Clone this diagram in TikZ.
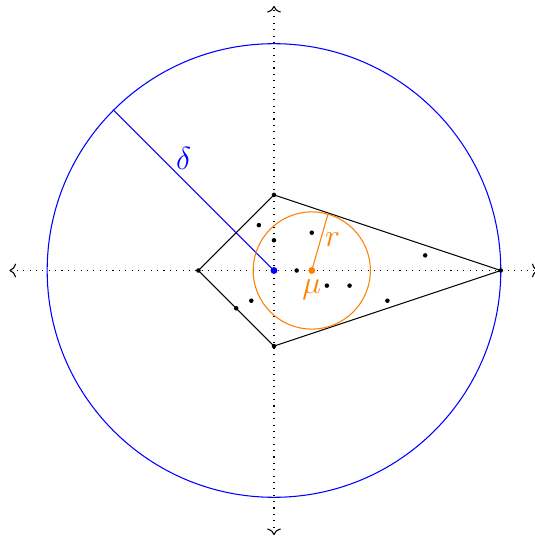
\documentclass[tikz,border=0pt]{standalone}
\usetikzlibrary{arrows.meta,positioning,calc}

\begin{document}
\begin{tikzpicture}[%
    axis/.style={dotted,<->},
    pt/.style={circle,fill,inner sep=0pt,minimum size=1.7pt},
    bigpt/.style={circle,fill,inner sep=0pt,minimum size=2.6pt},
    lbl/.style={font=\large}
]
\useasboundingbox (-3.624,-3.525) rectangle (3.452,3.578);

% ---------------- Axes ----------------
\coordinate (xl) at (-3.5,0);
\coordinate (xr) at (3.5,0);
\coordinate (yb) at (0,-3.5);
\coordinate (yt) at (0,3.5);
\draw[axis] (xl) -- (xr);
\draw[axis] (yb) -- (yt);

% ---------------- Enclosing circle ----------------
\coordinate (o) at (0,0);
\coordinate (d) at (135:3);
\draw[blue] (o) circle (3);
\draw[blue] (o) -- node[pos=0.62,above right=0.5pt,inner sep=0pt,lbl] (dlbl) {$\delta$} (d);

% ---------------- Points and hull ----------------
\foreach \x/\y [count=\i] in {0/1,3/0,0/-1,-1/0,-0.2/0.6,0/0.4,0.5/0.5,0.3/0,
    0.7/-0.2,1/-0.2,-0.3/-0.4,-0.5/-0.5,1.5/-0.4,2/0.2} {
    \node[pt] (p\i) at (\x,\y) {};
}
\draw (p1.center) -- (p2.center) -- (p3.center) -- (p4.center) -- cycle;

% ---------------- Mean and radius ----------------
\node[bigpt,orange] (mu) at (0.5,0) {};
\node[below=0pt of mu.center,orange,lbl] (mulbl) {$\mu$};
\coordinate (rr) at ($(mu.center)+(74:0.775)$);
\draw[orange] (mu.center) circle (0.775);
\draw[orange] (mu.center) -- node[pos=0.55,right,inner sep=1.5pt,lbl] (rlbl) {$r$} (rr);

\node[bigpt,blue] (c) at (o) {};

\end{tikzpicture}
\end{document}
